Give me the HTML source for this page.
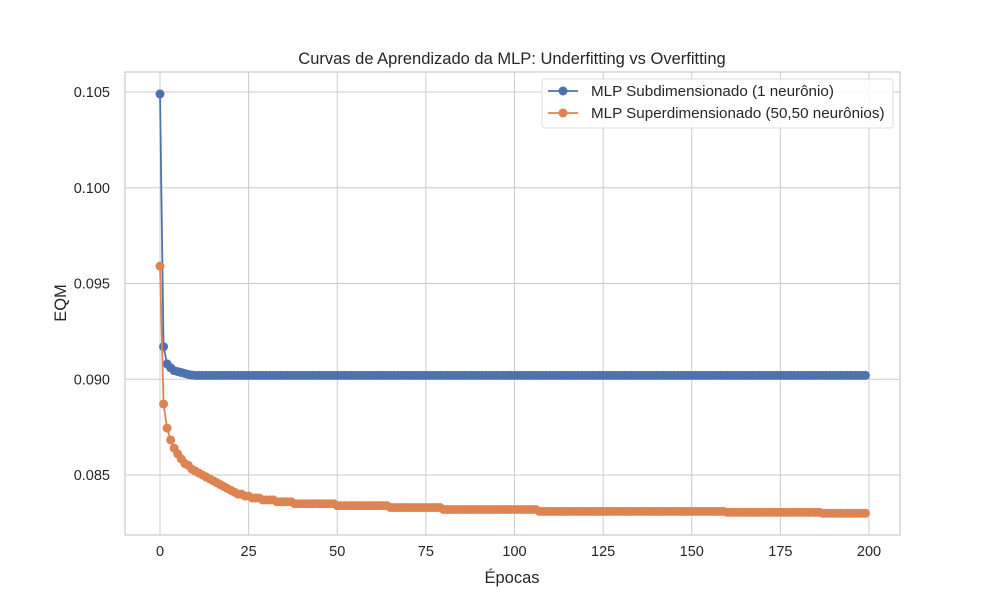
<!DOCTYPE html>
<html><head><meta charset="utf-8"><style>
body{margin:0;background:#fff}
svg{display:block;font-family:"Liberation Sans","DejaVu Sans",sans-serif}
</style></head><body>
<svg id="chart" width="1000" height="600" xmlns="http://www.w3.org/2000/svg">
<rect width="1000" height="600" fill="#fff"/>
<g id="grid"></g>
<rect x="125" y="72" width="775" height="463" fill="none" stroke="#cccccc" stroke-width="1.25"/>
<g id="series"></g>
<g id="ticks" font-size="14.5" fill="#262626"></g>
<text x="512" y="64" text-anchor="middle" font-size="16.5" fill="#262626">Curvas de Aprendizado da MLP: Underfitting vs Overfitting</text>
<text x="512" y="583" text-anchor="middle" font-size="16.5" fill="#262626">Épocas</text>
<text transform="translate(66,303) rotate(-90)" text-anchor="middle" font-size="16.5" fill="#262626">EQM</text>
<g>
<rect x="542" y="79" width="351" height="49" rx="3" fill="#fff" fill-opacity="0.85" stroke="#dddddd"/>
<g>
<line x1="548" y1="91" x2="578" y2="91" stroke="#4c72b0" stroke-width="1.8"/><circle cx="563" cy="91" r="4.5" fill="#4c72b0"/>
<text x="591" y="96" font-size="15.2" fill="#262626">MLP Subdimensionado (1 neurônio)</text></g>
<g>
<line x1="548" y1="113" x2="578" y2="113" stroke="#dd8452" stroke-width="1.8"/><circle cx="563" cy="113" r="4.5" fill="#dd8452"/>
<text x="591" y="118" font-size="15.2" fill="#262626">MLP Superdimensionado (50,50 neurônios)</text></g>
</g>
</svg>
<script>
const xTicks=[0,25,50,75,100,125,150,175,200];
const yTicks=[0.085,0.090,0.095,0.100,0.105];
const subLoss=[0.1049,0.0917,0.0908,0.0906,0.09045,0.0904,0.09035,0.0903,0.09025,0.09022,
0.0902,0.0902,0.0902,0.0902,0.0902,0.0902,0.0902,0.0902,0.0902,0.0902,0.0902,0.0902,0.0902,0.0902,0.0902,0.0902,0.0902,0.0902,0.0902,0.0902,
0.0902,0.0902,0.0902,0.0902,0.0902,0.0902,0.0902,0.0902,0.0902,0.0902,0.0902,0.0902,0.0902,0.0902,0.0902,0.0902,0.0902,0.0902,0.0902,0.0902,
0.0902,0.0902,0.0902,0.0902,0.0902,0.0902,0.0902,0.0902,0.0902,0.0902,0.0902,0.0902,0.0902,0.0902,0.0902,0.0902,0.0902,0.0902,0.0902,0.0902,
0.0902,0.0902,0.0902,0.0902,0.0902,0.0902,0.0902,0.0902,0.0902,0.0902,0.0902,0.0902,0.0902,0.0902,0.0902,0.0902,0.0902,0.0902,0.0902,0.0902,
0.0902,0.0902,0.0902,0.0902,0.0902,0.0902,0.0902,0.0902,0.0902,0.0902,0.0902,0.0902,0.0902,0.0902,0.0902,0.0902,0.0902,0.0902,0.0902,0.0902,
0.0902,0.0902,0.0902,0.0902,0.0902,0.0902,0.0902,0.0902,0.0902,0.0902,0.0902,0.0902,0.0902,0.0902,0.0902,0.0902,0.0902,0.0902,0.0902,0.0902,
0.0902,0.0902,0.0902,0.0902,0.0902,0.0902,0.0902,0.0902,0.0902,0.0902,0.0902,0.0902,0.0902,0.0902,0.0902,0.0902,0.0902,0.0902,0.0902,0.0902,
0.0902,0.0902,0.0902,0.0902,0.0902,0.0902,0.0902,0.0902,0.0902,0.0902,0.0902,0.0902,0.0902,0.0902,0.0902,0.0902,0.0902,0.0902,0.0902,0.0902,
0.0902,0.0902,0.0902,0.0902,0.0902,0.0902,0.0902,0.0902,0.0902,0.0902,0.0902,0.0902,0.0902,0.0902,0.0902,0.0902,0.0902,0.0902,0.0902,0.0902,
0.0902,0.0902,0.0902,0.0902,0.0902,0.0902,0.0902,0.0902,0.0902,0.0902];
const superLoss=[0.09591,0.08871,0.08745,0.08683,0.0864,0.0861,0.08584,0.0856,0.0855,0.0853,
0.0852,0.0851,0.0850,0.0849,0.0848,0.0847,0.0846,0.0845,0.0844,0.0843,
0.0842,0.0841,0.0840,0.0840,0.0839,0.0839,0.0838,0.0838,0.0838,0.0837,
0.0837,0.0837,0.0837,0.0836,0.0836,0.0836,0.0836,0.0836,0.0835,0.0835,
0.0835,0.0835,0.0835,0.0835,0.0835,0.0835,0.0835,0.0835,0.0835,0.0835,
0.0834,0.0834,0.0834,0.0834,0.0834,0.0834,0.0834,0.0834,0.0834,0.0834,
0.0834,0.0834,0.0834,0.0834,0.0834,0.0833,0.0833,0.0833,0.0833,0.0833,
0.0833,0.0833,0.0833,0.0833,0.0833,0.0833,0.0833,0.0833,0.0833,0.0833,
0.0832,0.0832,0.0832,0.0832,0.0832,0.0832,0.0832,0.0832,0.0832,0.0832,
0.0832,0.0832,0.0832,0.0832,0.0832,0.0832,0.0832,0.0832,0.0832,0.0832,
0.0832,0.0832,0.0832,0.0832,0.0832,0.0832,0.0832,0.0831,0.0831,0.0831,
0.0831,0.0831,0.0831,0.0831,0.0831,0.0831,0.0831,0.0831,0.0831,0.0831,
0.0831,0.0831,0.0831,0.0831,0.0831,0.0831,0.0831,0.0831,0.0831,0.0831,
0.0831,0.0831,0.0831,0.0831,0.0831,0.0831,0.0831,0.0831,0.0831,0.0831,
0.0831,0.0831,0.0831,0.0831,0.0831,0.0831,0.0831,0.0831,0.0831,0.0831,
0.0831,0.0831,0.0831,0.0831,0.0831,0.0831,0.0831,0.0831,0.0831,0.0831,
0.08305,0.08305,0.08305,0.08305,0.08305,0.08305,0.08305,0.08305,0.08305,0.08305,
0.08305,0.08305,0.08305,0.08305,0.08305,0.08305,0.08305,0.08305,0.08305,0.08305,
0.08305,0.08305,0.08305,0.08305,0.08305,0.08305,0.08305,0.0830,0.0830,0.0830,
0.0830,0.0830,0.0830,0.0830,0.0830,0.0830,0.0830,0.0830,0.0830,0.0830];
const NS="http://www.w3.org/2000/svg";
function xs(v){return 160+(v-0)*(869-160)/200;}
function ys(v){return 92+(0.105-v)/0.005*95.75;}
function mk(tag,attrs,parent){const e=document.createElementNS(NS,tag);for(const k in attrs)e.setAttribute(k,attrs[k]);parent.appendChild(e);return e;}
const grid=document.getElementById('grid'),ticks=document.getElementById('ticks'),series=document.getElementById('series');
xTicks.forEach(t=>{
  const l=mk('line',{x1:xs(t),x2:xs(t),y1:72,y2:535,stroke:'#cccccc','stroke-width':1},grid);
  
  
  const tx=mk('text',{x:xs(t),y:556,'text-anchor':'middle'},ticks);tx.textContent=t;
  
  
});
yTicks.forEach(t=>{
  const l=mk('line',{x1:125,x2:900,y1:ys(t),y2:ys(t),stroke:'#cccccc','stroke-width':1},grid);
  
  
  const tx=mk('text',{x:110,y:ys(t)+5,'text-anchor':'end'},ticks);tx.textContent=t.toFixed(3);
  
  
});
function draw(data,color,name){
  const g=mk('g',{},series);
  
  
  const pts=data.map((v,i)=>xs(i).toFixed(2)+','+ys(v).toFixed(2)).join(' ');
  const pl=mk('polyline',{points:pts,fill:'none',stroke:color,'stroke-width':1.8},g);
  
  
  data.forEach((v,i)=>{
    const c=mk('circle',{cx:xs(i),cy:ys(v),r:4.5,fill:color},g);
    
    
  });
}
draw(subLoss,'#4c72b0','sub-series');
draw(superLoss,'#dd8452','super-series');
</script>
</body></html>
